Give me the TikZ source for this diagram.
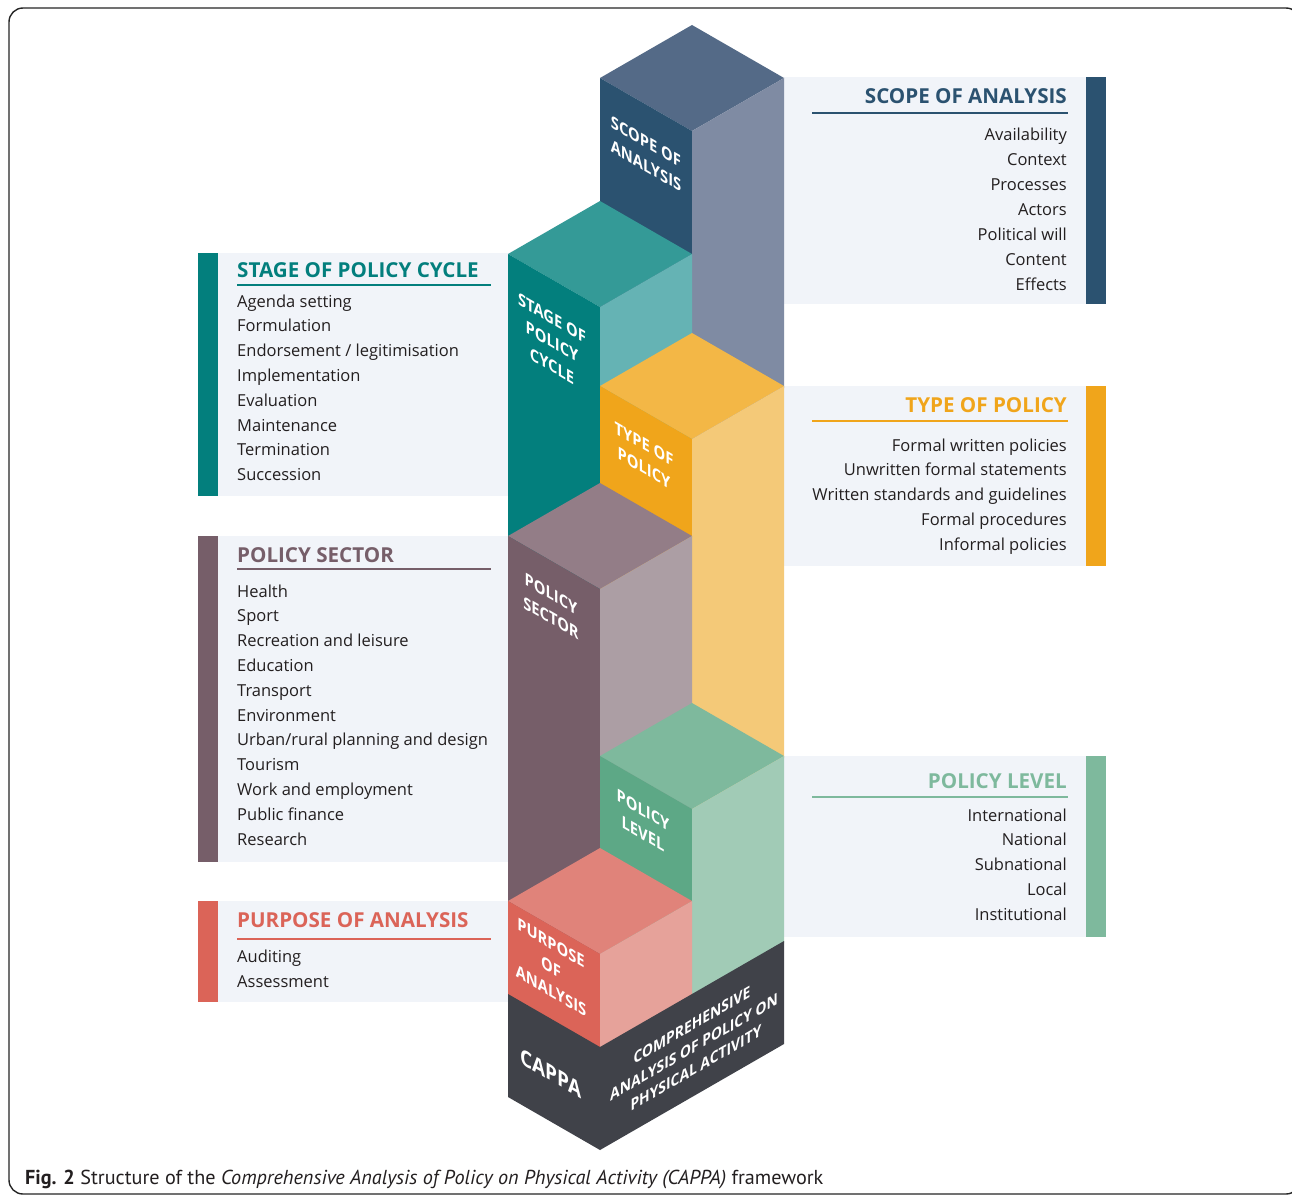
\documentclass[tikz,border=0pt]{standalone}
\usepackage{fontspec}
\setmainfont{Open Sans}
\newfontfamily\capfont{PT Sans}
\definecolor{panelbg}{HTML}{F1F4F9}
\definecolor{txt}{HTML}{231F20}
\definecolor{scT}{HTML}{546A87}\definecolor{scL}{HTML}{2B5270}\definecolor{scR}{HTML}{7F8BA3}
\definecolor{stT}{HTML}{349A97}\definecolor{stL}{HTML}{037F7D}\definecolor{stR}{HTML}{65B3B4}
\definecolor{tyT}{HTML}{F3B746}\definecolor{tyL}{HTML}{F0A51B}\definecolor{tyR}{HTML}{F4C978}
\definecolor{seT}{HTML}{937D87}\definecolor{seL}{HTML}{765E69}\definecolor{seR}{HTML}{AC9EA4}
\definecolor{leT}{HTML}{7EB99D}\definecolor{leL}{HTML}{5DA886}\definecolor{leR}{HTML}{A1CBB6}
\definecolor{puT}{HTML}{E0837A}\definecolor{puL}{HTML}{DB6458}\definecolor{puR}{HTML}{E6A29A}
\definecolor{baseC}{HTML}{404249}
\newcommand\isoblock[6]{%
  \fill[#4] (#1,#2) -- ++(92,53) -- ++(-92,53) -- ++(-92,-53) -- cycle;
  \fill[#5] (#1-92,#2+53) -- ++(92,53) -- ++(0,#3) -- ++(-92,-53) -- cycle;
  \fill[#6] (#1,#2+106) -- ++(92,-53) -- ++(0,#3) -- ++(-92,53) -- cycle;
}
\tikzset{
  item/.style={inner sep=0pt, text=txt, font=\fontsize{16.5}{20}\selectfont},
  itemR/.style={item, anchor=base east},
  itemL/.style={item, anchor=base west},
  head/.style={inner sep=0pt, font=\bfseries\fontsize{20.6}{24}\selectfont},
  rulel/.style={line width=2pt},
  lblL/.style={cm={0.866,-0.5,0,1,(0,0)}, text=white, align=center, inner sep=0pt,
    font=\bfseries\fontsize{17}{24}\selectfont},
  lblR/.style={cm={0.866,0.5,0,1,(0,0)}, text=white, inner sep=0pt,
    font=\bfseries\fontsize{16}{21}\selectfont},
}
\begin{document}
\begin{tikzpicture}[x=1pt,y=-1pt]
\useasboundingbox (0,0) rectangle (1292,1196);
\fill[white] (0,0) rectangle (1292,1196);
\draw[line width=1.4pt, black!85, rounded corners=14pt] (9,8) rectangle (1300,1194);

% panels
\fill[panelbg] (784,77) rectangle (1086,304);  \fill[scL] (1086,77) rectangle (1106,304);
\fill[panelbg] (784,386) rectangle (1086,566); \fill[tyL] (1086,386) rectangle (1106,566);
\fill[panelbg] (784,756) rectangle (1086,937); \fill[leT] (1086,756) rectangle (1106,937);
\fill[panelbg] (218,253) rectangle (508,496);  \fill[stL] (198,253) rectangle (218,496);
\fill[panelbg] (218,536) rectangle (508,862);  \fill[seL] (198,536) rectangle (218,862);
\fill[panelbg] (218,901) rectangle (508,1002); \fill[puL] (198,901) rectangle (218,1002);

% blocks
\isoblock{692}{25}{310}{scT}{scL}{scR}
\isoblock{600}{201}{284}{stT}{stL}{stR}
\isoblock{692}{333}{372}{tyT}{tyL}{tyR}
\isoblock{600}{483}{367}{seT}{seL}{seR}
\isoblock{692}{703}{187}{leT}{leL}{leR}
\isoblock{600}{848}{96}{puT}{puL}{puR}
\fill[baseC] (508,994) -- (600,1047) -- (600,1150) -- (508,1097) -- cycle;
\fill[baseC] (600,1047) -- (784,941) -- (784,1044) -- (600,1150) -- cycle;

% block labels
\node[lblL] (lscope) at (646,154) {SCOPE OF\\ANALYSIS};
\node[lblL] (lstage) at (552,342) {STAGE OF\\POLICY\\CYCLE};
\node[lblL] (ltype) at (644,456) {TYPE OF\\POLICY};
\node[lblL] (lsector) at (551,606) {POLICY\\SECTOR};
\node[lblL] (llevel) at (643,822) {POLICY\\LEVEL};
\node[lblL] (lpurp) at (551,967) {PURPOSE\\OF\\ANALYSIS};
\node[lblL, font=\bfseries\fontsize{22}{26}\selectfont] (lcappa) at (551,1073) {CAPPA};
\node[lblR] (lcomp1) at (692,1025) {COMPREHENSIVE};
\node[lblR] (lcomp2) at (694,1047) {ANALYSIS OF POLICY ON};
\node[lblR] (lcomp3) at (696,1068) {PHYSICAL ACTIVITY};

% right panels text
\node[head, anchor=base east, text=scL] (hscope) at (1067,103) {SCOPE OF ANALYSIS};
\draw[rulel, scL] (812,113) -- (1068,113);
\foreach \t [count=\i] in {Availability,Context,Processes,Actors,Political will,Content,Effects}
  \node[itemR] (scope\i) at (1067,{140+25*(\i-1)}) {\t};

\node[head, anchor=base east, text=tyL] (htype) at (1067,412) {TYPE OF POLICY};
\draw[rulel, tyL] (812,421) -- (1068,421);
\foreach \t [count=\i] in {Formal written policies,Unwritten formal statements,Written standards and guidelines,Formal procedures,Informal policies}
  \node[itemR] (type\i) at (1067,{451+24.8*(\i-1)}) {\t};

\node[head, anchor=base east, text=leT] (hlevel) at (1067,788) {POLICY LEVEL};
\draw[rulel, leT] (812,797) -- (1068,797);
\foreach \t [count=\i] in {International,National,Subnational,Local,Institutional}
  \node[itemR] (level\i) at (1067,{821+24.8*(\i-1)}) {\t};

% left panels text
\node[head, anchor=base west, text=stL] (hstage) at (237,277) {STAGE OF POLICY CYCLE};
\draw[rulel, stL] (237,285) -- (491,285);
\foreach \t [count=\i] in {Agenda setting,Formulation,Endorsement / legitimisation,Implementation,Evaluation,Maintenance,Termination,Succession}
  \node[itemL] (stage\i) at (237,{307+24.8*(\i-1)}) {\t};

\node[head, anchor=base west, text=seL] (hsector) at (237,562) {POLICY SECTOR};
\draw[rulel, seL] (237,569) -- (491,569);
\foreach \t [count=\i] in {Health,Sport,Recreation and leisure,Education,Transport,Environment,Urban/rural planning and design,Tourism,Work and employment,Public finance,Research}
  \node[itemL] (sector\i) at (237,{597+24.8*(\i-1)}) {\t};

\node[head, anchor=base west, text=puL] (hpurp) at (237,927) {PURPOSE OF ANALYSIS};
\draw[rulel, puL] (237,939) -- (491,939);
\foreach \t [count=\i] in {Auditing,Assessment}
  \node[itemL] (purp\i) at (237,{962+25*(\i-1)}) {\t};

% caption
\node[anchor=base west, inner sep=0pt, text=txt, font=\capfont\fontsize{20.2}{24}\selectfont] (cap) at (25,1184)
  {\textbf{Fig. 2} Structure of the \textit{Comprehensive Analysis of Policy on Physical Activity (CAPPA)} framework};
\end{tikzpicture}
\end{document}
